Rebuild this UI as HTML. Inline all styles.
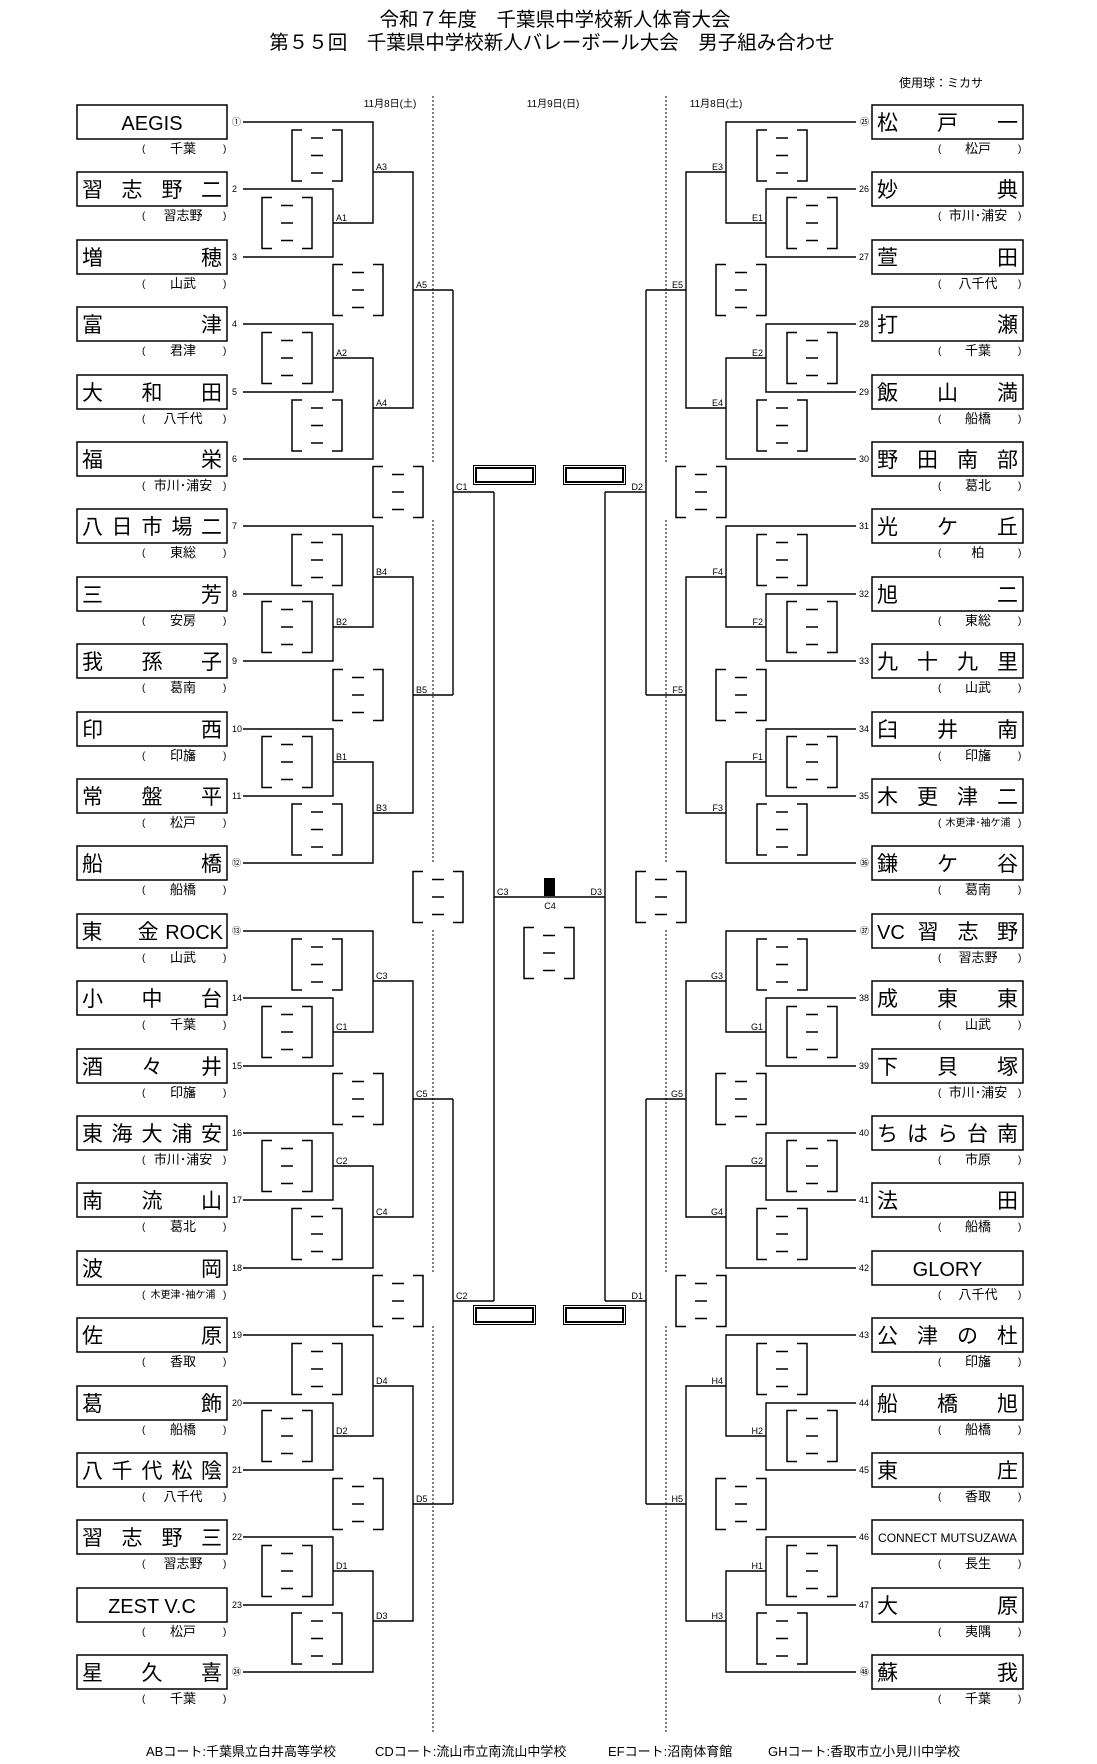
<!DOCTYPE html>
<html><head><meta charset="utf-8"><style>
html,body{margin:0;padding:0;background:#fff}
svg{display:block}
text{font-family:"Liberation Sans","Noto Sans CJK JP",sans-serif;fill:#000}
.nm{font-size:21px}
.lt{font-size:20px}
.sb{font-size:13px}
.pr{font-size:10px}
.nu{font-size:9px}
.lb{font-size:9px}
</style></head><body>
<svg width="1097" height="1764" viewBox="0 0 1097 1764" xmlns="http://www.w3.org/2000/svg">
<defs>
<g id="b" fill="none" stroke="#000" stroke-width="1.5"><path d="M10 0H0V51H10M40 0H50V51H40M19 8H31M19 25.5H31M19 43H31"/></g>
</defs>
<rect width="1097" height="1764" fill="#fff"/>
<text x="555" y="26" text-anchor="middle" style="font-size:19.5px">令和７年度　千葉県中学校新人体育大会</text>
<text x="552" y="49" text-anchor="middle" style="font-size:19.5px">第５５回　千葉県中学校新人バレーボール大会　男子組み合わせ</text>
<text x="899" y="87" style="font-size:12px">使用球：ミカサ</text>
<text x="390" y="107" text-anchor="middle" class="pr">11月8日(土)</text>
<text x="553" y="107" text-anchor="middle" class="pr">11月9日(日)</text>
<text x="716" y="107" text-anchor="middle" class="pr">11月8日(土)</text>

<g fill="none" stroke="#000" stroke-width="1" stroke-dasharray="2,2">
<path d="M433 96V462M433 520V862M433 930V1272M433 1326V1733M666 96V462M666 520V862M666 930V1272M666 1326V1733"/>
</g>

<g fill="none" stroke="#000" stroke-width="1.4">
<!-- left pools -->
<path d="M243 122H373V223H333M243 189H333V257H243M333 358H373V459H243M243 324H333V392H243M373 172H413V408H373M413 290H453"/>
<path d="M243 526H373V627H333M243 594H333V661H243M333 762H373V863H243M243 729H333V796H243M373 577H413V813H373M413 695H453"/>
<path d="M243 931H373V1032H333M243 998H333V1066H243M333 1166H373V1268H243M243 1133H333V1200H243M373 981H413V1217H373M413 1099H453"/>
<path d="M243 1335H373V1436H333M243 1403H333V1470H243M333 1571H373V1672H243M243 1537H333V1605H243M373 1386H413V1621H373M413 1504H453"/>
<path d="M453 290V695M453 492H494M453 1099V1504M453 1301H494M494 492V1301M494 897H605"/>
<!-- right pools -->
<path d="M856 122H726V223H766M856 189H766V257H856M766 358H726V459H856M856 324H766V392H856M726 172H686V408H726M686 290H646"/>
<path d="M856 526H726V627H766M856 594H766V661H856M766 762H726V863H856M856 729H766V796H856M726 577H686V813H726M686 695H646"/>
<path d="M856 931H726V1032H766M856 998H766V1066H856M766 1166H726V1268H856M856 1133H766V1200H856M726 981H686V1217H726M686 1099H646"/>
<path d="M856 1335H726V1436H766M856 1403H766V1470H856M766 1571H726V1672H856M856 1537H766V1605H856M726 1386H686V1621H726M686 1504H646"/>
<path d="M646 290V695M646 492H605M646 1099V1504M646 1301H605M605 492V1301"/>
</g>
<rect x="544" y="878" width="11" height="18" fill="#000"/>

<!-- center double rects -->
<g fill="none" stroke="#000">
<rect x="473.5" y="465.5" width="62" height="19" stroke-width="1"/><rect x="476" y="468" width="57" height="14" stroke-width="2"/>
<rect x="563.5" y="465.5" width="62" height="19" stroke-width="1"/><rect x="566" y="468" width="57" height="14" stroke-width="2"/>
<rect x="473.5" y="1305.5" width="62" height="19" stroke-width="1"/><rect x="476" y="1308" width="57" height="14" stroke-width="2"/>
<rect x="563.5" y="1305.5" width="62" height="19" stroke-width="1"/><rect x="566" y="1308" width="57" height="14" stroke-width="2"/>
</g>

<!-- score boxes left -->
<use href="#b" x="262" y="197.5"/><use href="#b" x="262" y="332.5"/><use href="#b" x="292" y="130"/><use href="#b" x="292" y="400"/><use href="#b" x="333" y="264.5"/>
<use href="#b" x="262" y="601.5"/><use href="#b" x="262" y="736.5"/><use href="#b" x="292" y="534.5"/><use href="#b" x="292" y="804"/><use href="#b" x="333" y="669.5"/>
<use href="#b" x="262" y="1006.5"/><use href="#b" x="262" y="1140.5"/><use href="#b" x="292" y="939"/><use href="#b" x="292" y="1208.5"/><use href="#b" x="333" y="1073.5"/>
<use href="#b" x="262" y="1410.5"/><use href="#b" x="262" y="1545.5"/><use href="#b" x="292" y="1343.5"/><use href="#b" x="292" y="1613"/><use href="#b" x="333" y="1478.5"/>
<use href="#b" x="373" y="466.5"/><use href="#b" x="373" y="1275.5"/><use href="#b" x="413" y="871.5"/>
<use href="#b" x="524" y="927.5"/>
<!-- score boxes right -->
<use href="#b" x="787" y="197.5"/><use href="#b" x="787" y="332.5"/><use href="#b" x="757" y="130"/><use href="#b" x="757" y="400"/><use href="#b" x="716" y="264.5"/>
<use href="#b" x="787" y="601.5"/><use href="#b" x="787" y="736.5"/><use href="#b" x="757" y="534.5"/><use href="#b" x="757" y="804"/><use href="#b" x="716" y="669.5"/>
<use href="#b" x="787" y="1006.5"/><use href="#b" x="787" y="1140.5"/><use href="#b" x="757" y="939"/><use href="#b" x="757" y="1208.5"/><use href="#b" x="716" y="1073.5"/>
<use href="#b" x="787" y="1410.5"/><use href="#b" x="787" y="1545.5"/><use href="#b" x="757" y="1343.5"/><use href="#b" x="757" y="1613"/><use href="#b" x="716" y="1478.5"/>
<use href="#b" x="676" y="466.5"/><use href="#b" x="676" y="1275.5"/><use href="#b" x="636" y="871.5"/>

<!-- match labels left -->
<g class="lb">
<text x="336" y="221">A1</text><text x="336" y="356">A2</text><text x="376" y="170">A3</text><text x="376" y="406">A4</text><text x="416" y="288">A5</text>
<text x="336" y="625">B2</text><text x="336" y="760">B1</text><text x="376" y="575">B4</text><text x="376" y="811">B3</text><text x="416" y="693">B5</text>
<text x="336" y="1030">C1</text><text x="336" y="1164">C2</text><text x="376" y="979">C3</text><text x="376" y="1215">C4</text><text x="416" y="1097">C5</text>
<text x="336" y="1434">D2</text><text x="336" y="1569">D1</text><text x="376" y="1384">D4</text><text x="376" y="1619">D3</text><text x="416" y="1502">D5</text>
<text x="456" y="490">C1</text><text x="456" y="1299">C2</text><text x="497" y="895">C3</text>
<text x="550" y="909" text-anchor="middle">C4</text>
</g>
<g class="lb" text-anchor="end">
<text x="763" y="221">E1</text><text x="763" y="356">E2</text><text x="723" y="170">E3</text><text x="723" y="406">E4</text><text x="683" y="288">E5</text>
<text x="763" y="625">F2</text><text x="763" y="760">F1</text><text x="723" y="575">F4</text><text x="723" y="811">F3</text><text x="683" y="693">F5</text>
<text x="763" y="1030">G1</text><text x="763" y="1164">G2</text><text x="723" y="979">G3</text><text x="723" y="1215">G4</text><text x="683" y="1097">G5</text>
<text x="763" y="1434">H2</text><text x="763" y="1569">H1</text><text x="723" y="1384">H4</text><text x="723" y="1619">H3</text><text x="683" y="1502">H5</text>
<text x="643" y="490">D2</text><text x="643" y="1299">D1</text><text x="602" y="895">D3</text>
</g>

<!-- left teams -->
<g id="L">
<g transform="translate(0,122)"><rect x="77" y="-17" width="150" height="34" fill="none" stroke="#000" stroke-width="1.5"/><text class="lt" x="152" y="8" text-anchor="middle">AEGIS</text><text class="nu" x="232" y="3">①</text><text class="pr" x="142" y="30">(</text><text class="pr" x="223" y="30">)</text><text class="sb" x="183" y="31" text-anchor="middle">千葉</text></g>
<g transform="translate(0,189)"><rect x="77" y="-17" width="150" height="34" fill="none" stroke="#000" stroke-width="1.5"/><text class="nm" x="92.5 132 172 211.5" y="8" text-anchor="middle">習志野二</text><text class="nu" x="232" y="3">2</text><text class="pr" x="142" y="30">(</text><text class="pr" x="223" y="30">)</text><text class="sb" x="183" y="31" text-anchor="middle">習志野</text></g>
<g transform="translate(0,257)"><rect x="77" y="-17" width="150" height="34" fill="none" stroke="#000" stroke-width="1.5"/><text class="nm" x="92.5 211.5" y="8" text-anchor="middle">増穂</text><text class="nu" x="232" y="3">3</text><text class="pr" x="142" y="30">(</text><text class="pr" x="223" y="30">)</text><text class="sb" x="183" y="31" text-anchor="middle">山武</text></g>
<g transform="translate(0,324)"><rect x="77" y="-17" width="150" height="34" fill="none" stroke="#000" stroke-width="1.5"/><text class="nm" x="92.5 211.5" y="8" text-anchor="middle">富津</text><text class="nu" x="232" y="3">4</text><text class="pr" x="142" y="30">(</text><text class="pr" x="223" y="30">)</text><text class="sb" x="183" y="31" text-anchor="middle">君津</text></g>
<g transform="translate(0,392)"><rect x="77" y="-17" width="150" height="34" fill="none" stroke="#000" stroke-width="1.5"/><text class="nm" x="92.5 152 211.5" y="8" text-anchor="middle">大和田</text><text class="nu" x="232" y="3">5</text><text class="pr" x="142" y="30">(</text><text class="pr" x="223" y="30">)</text><text class="sb" x="183" y="31" text-anchor="middle">八千代</text></g>
<g transform="translate(0,459)"><rect x="77" y="-17" width="150" height="34" fill="none" stroke="#000" stroke-width="1.5"/><text class="nm" x="92.5 211.5" y="8" text-anchor="middle">福栄</text><text class="nu" x="232" y="3">6</text><text class="pr" x="142" y="30">(</text><text class="pr" x="223" y="30">)</text><text class="sb" x="183" y="31" text-anchor="middle">市川･浦安</text></g>
<g transform="translate(0,526)"><rect x="77" y="-17" width="150" height="34" fill="none" stroke="#000" stroke-width="1.5"/><text class="nm" x="92.5 122 152 182 211.5" y="8" text-anchor="middle">八日市場二</text><text class="nu" x="232" y="3">7</text><text class="pr" x="142" y="30">(</text><text class="pr" x="223" y="30">)</text><text class="sb" x="183" y="31" text-anchor="middle">東総</text></g>
<g transform="translate(0,594)"><rect x="77" y="-17" width="150" height="34" fill="none" stroke="#000" stroke-width="1.5"/><text class="nm" x="92.5 211.5" y="8" text-anchor="middle">三芳</text><text class="nu" x="232" y="3">8</text><text class="pr" x="142" y="30">(</text><text class="pr" x="223" y="30">)</text><text class="sb" x="183" y="31" text-anchor="middle">安房</text></g>
<g transform="translate(0,661)"><rect x="77" y="-17" width="150" height="34" fill="none" stroke="#000" stroke-width="1.5"/><text class="nm" x="92.5 152 211.5" y="8" text-anchor="middle">我孫子</text><text class="nu" x="232" y="3">9</text><text class="pr" x="142" y="30">(</text><text class="pr" x="223" y="30">)</text><text class="sb" x="183" y="31" text-anchor="middle">葛南</text></g>
<g transform="translate(0,729)"><rect x="77" y="-17" width="150" height="34" fill="none" stroke="#000" stroke-width="1.5"/><text class="nm" x="92.5 211.5" y="8" text-anchor="middle">印西</text><text class="nu" x="232" y="3">10</text><text class="pr" x="142" y="30">(</text><text class="pr" x="223" y="30">)</text><text class="sb" x="183" y="31" text-anchor="middle">印旛</text></g>
<g transform="translate(0,796)"><rect x="77" y="-17" width="150" height="34" fill="none" stroke="#000" stroke-width="1.5"/><text class="nm" x="92.5 152 211.5" y="8" text-anchor="middle">常盤平</text><text class="nu" x="232" y="3">11</text><text class="pr" x="142" y="30">(</text><text class="pr" x="223" y="30">)</text><text class="sb" x="183" y="31" text-anchor="middle">松戸</text></g>
<g transform="translate(0,863)"><rect x="77" y="-17" width="150" height="34" fill="none" stroke="#000" stroke-width="1.5"/><text class="nm" x="92.5 211.5" y="8" text-anchor="middle">船橋</text><text class="nu" x="232" y="3">⑫</text><text class="pr" x="142" y="30">(</text><text class="pr" x="223" y="30">)</text><text class="sb" x="183" y="31" text-anchor="middle">船橋</text></g>
<g transform="translate(0,931)"><rect x="77" y="-17" width="150" height="34" fill="none" stroke="#000" stroke-width="1.5"/><text class="nm" x="92 148" y="8" text-anchor="middle">東金</text><text class="lt" x="223" y="8" text-anchor="end">ROCK</text><text class="nu" x="232" y="3">⑬</text><text class="pr" x="142" y="30">(</text><text class="pr" x="223" y="30">)</text><text class="sb" x="183" y="31" text-anchor="middle">山武</text></g>
<g transform="translate(0,998)"><rect x="77" y="-17" width="150" height="34" fill="none" stroke="#000" stroke-width="1.5"/><text class="nm" x="92.5 152 211.5" y="8" text-anchor="middle">小中台</text><text class="nu" x="232" y="3">14</text><text class="pr" x="142" y="30">(</text><text class="pr" x="223" y="30">)</text><text class="sb" x="183" y="31" text-anchor="middle">千葉</text></g>
<g transform="translate(0,1066)"><rect x="77" y="-17" width="150" height="34" fill="none" stroke="#000" stroke-width="1.5"/><text class="nm" x="92.5 152 211.5" y="8" text-anchor="middle">酒々井</text><text class="nu" x="232" y="3">15</text><text class="pr" x="142" y="30">(</text><text class="pr" x="223" y="30">)</text><text class="sb" x="183" y="31" text-anchor="middle">印旛</text></g>
<g transform="translate(0,1133)"><rect x="77" y="-17" width="150" height="34" fill="none" stroke="#000" stroke-width="1.5"/><text class="nm" x="92.5 122 152 182 211.5" y="8" text-anchor="middle">東海大浦安</text><text class="nu" x="232" y="3">16</text><text class="pr" x="142" y="30">(</text><text class="pr" x="223" y="30">)</text><text class="sb" x="183" y="31" text-anchor="middle">市川･浦安</text></g>
<g transform="translate(0,1200)"><rect x="77" y="-17" width="150" height="34" fill="none" stroke="#000" stroke-width="1.5"/><text class="nm" x="92.5 152 211.5" y="8" text-anchor="middle">南流山</text><text class="nu" x="232" y="3">17</text><text class="pr" x="142" y="30">(</text><text class="pr" x="223" y="30">)</text><text class="sb" x="183" y="31" text-anchor="middle">葛北</text></g>
<g transform="translate(0,1268)"><rect x="77" y="-17" width="150" height="34" fill="none" stroke="#000" stroke-width="1.5"/><text class="nm" x="92.5 211.5" y="8" text-anchor="middle">波岡</text><text class="nu" x="232" y="3">18</text><text class="pr" x="142" y="30">(</text><text class="pr" x="223" y="30">)</text><text class="sb" x="183" y="30" text-anchor="middle" style="font-size:10px">木更津･袖ケ浦</text></g>
<g transform="translate(0,1335)"><rect x="77" y="-17" width="150" height="34" fill="none" stroke="#000" stroke-width="1.5"/><text class="nm" x="92.5 211.5" y="8" text-anchor="middle">佐原</text><text class="nu" x="232" y="3">19</text><text class="pr" x="142" y="30">(</text><text class="pr" x="223" y="30">)</text><text class="sb" x="183" y="31" text-anchor="middle">香取</text></g>
<g transform="translate(0,1403)"><rect x="77" y="-17" width="150" height="34" fill="none" stroke="#000" stroke-width="1.5"/><text class="nm" x="92.5 211.5" y="8" text-anchor="middle">葛飾</text><text class="nu" x="232" y="3">20</text><text class="pr" x="142" y="30">(</text><text class="pr" x="223" y="30">)</text><text class="sb" x="183" y="31" text-anchor="middle">船橋</text></g>
<g transform="translate(0,1470)"><rect x="77" y="-17" width="150" height="34" fill="none" stroke="#000" stroke-width="1.5"/><text class="nm" x="92.5 122 152 182 211.5" y="8" text-anchor="middle">八千代松陰</text><text class="nu" x="232" y="3">21</text><text class="pr" x="142" y="30">(</text><text class="pr" x="223" y="30">)</text><text class="sb" x="183" y="31" text-anchor="middle">八千代</text></g>
<g transform="translate(0,1537)"><rect x="77" y="-17" width="150" height="34" fill="none" stroke="#000" stroke-width="1.5"/><text class="nm" x="92.5 132 172 211.5" y="8" text-anchor="middle">習志野三</text><text class="nu" x="232" y="3">22</text><text class="pr" x="142" y="30">(</text><text class="pr" x="223" y="30">)</text><text class="sb" x="183" y="31" text-anchor="middle">習志野</text></g>
<g transform="translate(0,1605)"><rect x="77" y="-17" width="150" height="34" fill="none" stroke="#000" stroke-width="1.5"/><text class="lt" x="152" y="8" text-anchor="middle">ZEST V.C</text><text class="nu" x="232" y="3">23</text><text class="pr" x="142" y="30">(</text><text class="pr" x="223" y="30">)</text><text class="sb" x="183" y="31" text-anchor="middle">松戸</text></g>
<g transform="translate(0,1672)"><rect x="77" y="-17" width="150" height="34" fill="none" stroke="#000" stroke-width="1.5"/><text class="nm" x="92.5 152 211.5" y="8" text-anchor="middle">星久喜</text><text class="nu" x="232" y="3">㉔</text><text class="pr" x="142" y="30">(</text><text class="pr" x="223" y="30">)</text><text class="sb" x="183" y="31" text-anchor="middle">千葉</text></g>
</g>

<!-- right teams -->
<g>
<g transform="translate(0,122)"><rect x="872" y="-17" width="151" height="34" fill="none" stroke="#000" stroke-width="1.5"/><text class="nm" x="887.5 947.5 1007.5" y="8" text-anchor="middle">松戸一</text><text class="nu" x="869" y="3" text-anchor="end">㉕</text><text class="pr" x="938" y="30">(</text><text class="pr" x="1018" y="30">)</text><text class="sb" x="978" y="31" text-anchor="middle">松戸</text></g>
<g transform="translate(0,189)"><rect x="872" y="-17" width="151" height="34" fill="none" stroke="#000" stroke-width="1.5"/><text class="nm" x="887.5 1007.5" y="8" text-anchor="middle">妙典</text><text class="nu" x="869" y="3" text-anchor="end">26</text><text class="pr" x="938" y="30">(</text><text class="pr" x="1018" y="30">)</text><text class="sb" x="978" y="31" text-anchor="middle">市川･浦安</text></g>
<g transform="translate(0,257)"><rect x="872" y="-17" width="151" height="34" fill="none" stroke="#000" stroke-width="1.5"/><text class="nm" x="887.5 1007.5" y="8" text-anchor="middle">萱田</text><text class="nu" x="869" y="3" text-anchor="end">27</text><text class="pr" x="938" y="30">(</text><text class="pr" x="1018" y="30">)</text><text class="sb" x="978" y="31" text-anchor="middle">八千代</text></g>
<g transform="translate(0,324)"><rect x="872" y="-17" width="151" height="34" fill="none" stroke="#000" stroke-width="1.5"/><text class="nm" x="887.5 1007.5" y="8" text-anchor="middle">打瀬</text><text class="nu" x="869" y="3" text-anchor="end">28</text><text class="pr" x="938" y="30">(</text><text class="pr" x="1018" y="30">)</text><text class="sb" x="978" y="31" text-anchor="middle">千葉</text></g>
<g transform="translate(0,392)"><rect x="872" y="-17" width="151" height="34" fill="none" stroke="#000" stroke-width="1.5"/><text class="nm" x="887.5 947.5 1007.5" y="8" text-anchor="middle">飯山満</text><text class="nu" x="869" y="3" text-anchor="end">29</text><text class="pr" x="938" y="30">(</text><text class="pr" x="1018" y="30">)</text><text class="sb" x="978" y="31" text-anchor="middle">船橋</text></g>
<g transform="translate(0,459)"><rect x="872" y="-17" width="151" height="34" fill="none" stroke="#000" stroke-width="1.5"/><text class="nm" x="887.5 927.5 967.5 1007.5" y="8" text-anchor="middle">野田南部</text><text class="nu" x="869" y="3" text-anchor="end">30</text><text class="pr" x="938" y="30">(</text><text class="pr" x="1018" y="30">)</text><text class="sb" x="978" y="31" text-anchor="middle">葛北</text></g>
<g transform="translate(0,526)"><rect x="872" y="-17" width="151" height="34" fill="none" stroke="#000" stroke-width="1.5"/><text class="nm" x="887.5 947.5 1007.5" y="8" text-anchor="middle">光ケ丘</text><text class="nu" x="869" y="3" text-anchor="end">31</text><text class="pr" x="938" y="30">(</text><text class="pr" x="1018" y="30">)</text><text class="sb" x="978" y="31" text-anchor="middle">柏</text></g>
<g transform="translate(0,594)"><rect x="872" y="-17" width="151" height="34" fill="none" stroke="#000" stroke-width="1.5"/><text class="nm" x="887.5 1007.5" y="8" text-anchor="middle">旭二</text><text class="nu" x="869" y="3" text-anchor="end">32</text><text class="pr" x="938" y="30">(</text><text class="pr" x="1018" y="30">)</text><text class="sb" x="978" y="31" text-anchor="middle">東総</text></g>
<g transform="translate(0,661)"><rect x="872" y="-17" width="151" height="34" fill="none" stroke="#000" stroke-width="1.5"/><text class="nm" x="887.5 927.5 967.5 1007.5" y="8" text-anchor="middle">九十九里</text><text class="nu" x="869" y="3" text-anchor="end">33</text><text class="pr" x="938" y="30">(</text><text class="pr" x="1018" y="30">)</text><text class="sb" x="978" y="31" text-anchor="middle">山武</text></g>
<g transform="translate(0,729)"><rect x="872" y="-17" width="151" height="34" fill="none" stroke="#000" stroke-width="1.5"/><text class="nm" x="887.5 947.5 1007.5" y="8" text-anchor="middle">臼井南</text><text class="nu" x="869" y="3" text-anchor="end">34</text><text class="pr" x="938" y="30">(</text><text class="pr" x="1018" y="30">)</text><text class="sb" x="978" y="31" text-anchor="middle">印旛</text></g>
<g transform="translate(0,796)"><rect x="872" y="-17" width="151" height="34" fill="none" stroke="#000" stroke-width="1.5"/><text class="nm" x="887.5 927.5 967.5 1007.5" y="8" text-anchor="middle">木更津二</text><text class="nu" x="869" y="3" text-anchor="end">35</text><text class="pr" x="938" y="30">(</text><text class="pr" x="1018" y="30">)</text><text class="sb" x="978" y="30" text-anchor="middle" style="font-size:10px">木更津･袖ケ浦</text></g>
<g transform="translate(0,863)"><rect x="872" y="-17" width="151" height="34" fill="none" stroke="#000" stroke-width="1.5"/><text class="nm" x="887.5 947.5 1007.5" y="8" text-anchor="middle">鎌ケ谷</text><text class="nu" x="869" y="3" text-anchor="end">㊱</text><text class="pr" x="938" y="30">(</text><text class="pr" x="1018" y="30">)</text><text class="sb" x="978" y="31" text-anchor="middle">葛南</text></g>
<g transform="translate(0,931)"><rect x="872" y="-17" width="151" height="34" fill="none" stroke="#000" stroke-width="1.5"/><text class="lt" x="877" y="8">VC</text><text class="nm" x="928 968 1007.5" y="8" text-anchor="middle">習志野</text><text class="nu" x="869" y="3" text-anchor="end">㊲</text><text class="pr" x="938" y="30">(</text><text class="pr" x="1018" y="30">)</text><text class="sb" x="978" y="31" text-anchor="middle">習志野</text></g>
<g transform="translate(0,998)"><rect x="872" y="-17" width="151" height="34" fill="none" stroke="#000" stroke-width="1.5"/><text class="nm" x="887.5 947.5 1007.5" y="8" text-anchor="middle">成東東</text><text class="nu" x="869" y="3" text-anchor="end">38</text><text class="pr" x="938" y="30">(</text><text class="pr" x="1018" y="30">)</text><text class="sb" x="978" y="31" text-anchor="middle">山武</text></g>
<g transform="translate(0,1066)"><rect x="872" y="-17" width="151" height="34" fill="none" stroke="#000" stroke-width="1.5"/><text class="nm" x="887.5 947.5 1007.5" y="8" text-anchor="middle">下貝塚</text><text class="nu" x="869" y="3" text-anchor="end">39</text><text class="pr" x="938" y="30">(</text><text class="pr" x="1018" y="30">)</text><text class="sb" x="978" y="31" text-anchor="middle">市川･浦安</text></g>
<g transform="translate(0,1133)"><rect x="872" y="-17" width="151" height="34" fill="none" stroke="#000" stroke-width="1.5"/><text class="nm" x="887.5 917.5 947.5 977.5 1007.5" y="8" text-anchor="middle">ちはら台南</text><text class="nu" x="869" y="3" text-anchor="end">40</text><text class="pr" x="938" y="30">(</text><text class="pr" x="1018" y="30">)</text><text class="sb" x="978" y="31" text-anchor="middle">市原</text></g>
<g transform="translate(0,1200)"><rect x="872" y="-17" width="151" height="34" fill="none" stroke="#000" stroke-width="1.5"/><text class="nm" x="887.5 1007.5" y="8" text-anchor="middle">法田</text><text class="nu" x="869" y="3" text-anchor="end">41</text><text class="pr" x="938" y="30">(</text><text class="pr" x="1018" y="30">)</text><text class="sb" x="978" y="31" text-anchor="middle">船橋</text></g>
<g transform="translate(0,1268)"><rect x="872" y="-17" width="151" height="34" fill="none" stroke="#000" stroke-width="1.5"/><text class="lt" x="947.5" y="8" text-anchor="middle">GLORY</text><text class="nu" x="869" y="3" text-anchor="end">42</text><text class="pr" x="938" y="30">(</text><text class="pr" x="1018" y="30">)</text><text class="sb" x="978" y="31" text-anchor="middle">八千代</text></g>
<g transform="translate(0,1335)"><rect x="872" y="-17" width="151" height="34" fill="none" stroke="#000" stroke-width="1.5"/><text class="nm" x="887.5 927.5 967.5 1007.5" y="8" text-anchor="middle">公津の杜</text><text class="nu" x="869" y="3" text-anchor="end">43</text><text class="pr" x="938" y="30">(</text><text class="pr" x="1018" y="30">)</text><text class="sb" x="978" y="31" text-anchor="middle">印旛</text></g>
<g transform="translate(0,1403)"><rect x="872" y="-17" width="151" height="34" fill="none" stroke="#000" stroke-width="1.5"/><text class="nm" x="887.5 947.5 1007.5" y="8" text-anchor="middle">船橋旭</text><text class="nu" x="869" y="3" text-anchor="end">44</text><text class="pr" x="938" y="30">(</text><text class="pr" x="1018" y="30">)</text><text class="sb" x="978" y="31" text-anchor="middle">船橋</text></g>
<g transform="translate(0,1470)"><rect x="872" y="-17" width="151" height="34" fill="none" stroke="#000" stroke-width="1.5"/><text class="nm" x="887.5 1007.5" y="8" text-anchor="middle">東庄</text><text class="nu" x="869" y="3" text-anchor="end">45</text><text class="pr" x="938" y="30">(</text><text class="pr" x="1018" y="30">)</text><text class="sb" x="978" y="31" text-anchor="middle">香取</text></g>
<g transform="translate(0,1537)"><rect x="872" y="-17" width="151" height="34" fill="none" stroke="#000" stroke-width="1.5"/><text x="947.5" y="5" text-anchor="middle" style="font-size:12px">CONNECT MUTSUZAWA</text><text class="nu" x="869" y="3" text-anchor="end">46</text><text class="pr" x="938" y="30">(</text><text class="pr" x="1018" y="30">)</text><text class="sb" x="978" y="31" text-anchor="middle">長生</text></g>
<g transform="translate(0,1605)"><rect x="872" y="-17" width="151" height="34" fill="none" stroke="#000" stroke-width="1.5"/><text class="nm" x="887.5 1007.5" y="8" text-anchor="middle">大原</text><text class="nu" x="869" y="3" text-anchor="end">47</text><text class="pr" x="938" y="30">(</text><text class="pr" x="1018" y="30">)</text><text class="sb" x="978" y="31" text-anchor="middle">夷隅</text></g>
<g transform="translate(0,1672)"><rect x="872" y="-17" width="151" height="34" fill="none" stroke="#000" stroke-width="1.5"/><text class="nm" x="887.5 1007.5" y="8" text-anchor="middle">蘇我</text><text class="nu" x="869" y="3" text-anchor="end">㊽</text><text class="pr" x="938" y="30">(</text><text class="pr" x="1018" y="30">)</text><text class="sb" x="978" y="31" text-anchor="middle">千葉</text></g>
</g>

<g style="font-size:13px">
<text x="146" y="1756">ABコート:千葉県立白井高等学校</text>
<text x="375" y="1756">CDコート:流山市立南流山中学校</text>
<text x="608" y="1756">EFコート:沼南体育館</text>
<text x="768" y="1756">GHコート:香取市立小見川中学校</text>
</g>
</svg>
</body></html>
